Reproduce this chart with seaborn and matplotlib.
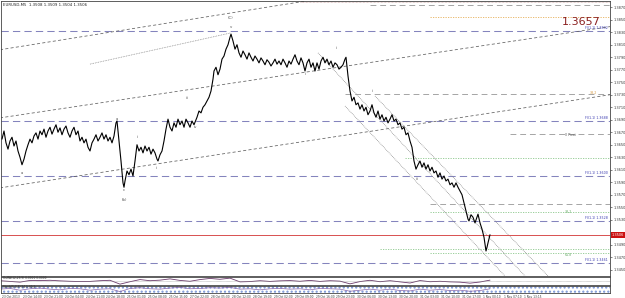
import numpy as np
import pandas as pd
import matplotlib
matplotlib.use("Agg")
import matplotlib.pyplot as plt
import seaborn as sns

# ---------------- data ----------------
bar = [2,4,6,8,10,12,14,16,18,20,22,24,26,28,30,32,34,36,38,40,42,44,46,48,50,52,54,56,58,60,
       62,64,66,68,70,72,74,76,78,80,82,84,86,88,90,92,94,96,98,100,102,104,106,108,110,112,114,116,117,
       119,121,123,124,125,127,129,131,133,135,137,139,141,143,145,147,149,151,153,155,157,158,160,162,164,
       166,168,170,172,174,176,178,180,182,184,186,188,190,192,194,195,197,199,201,203,205,207,209,211,213,
       214,216,218,220,222,224,226,228,230,231,233,235,237,239,241,243,245,247,249,251,253,255,257,259,261,
       263,265,267,269,271,273,275,277,279,281,283,285,287,289,291,293,295,297,299,301,303,305,307,309,311,
       313,315,317,319,321,323,325,327,329,331,333,335,337,339,341,343,345,346,348,350,352,354,356,358,360,
       362,364,366,368,370,372,374,376,378,380,382,384,386,388,390,392,394,396,398,400,402,404,406,408,410,
       412,414,416,418,420,422,424,426,428,430,432,434,436,438,440,442,444,446,448,450,452,454,456,458,460,
       462,464,466,468,469,471,473,475,477,478,480,482,484,486,487,488,490]
price = [1.3659,1.3672,1.3653,1.3643,1.3656,1.3662,1.3648,1.3656,1.3640,1.3630,1.3618,1.3627,1.3640,1.3650,
         1.3659,1.3653,1.3664,1.3669,1.3659,1.3672,1.3666,1.3675,1.3662,1.3672,1.3678,1.3667,1.3675,1.3682,
         1.3670,1.3677,1.3666,1.3675,1.3680,1.3669,1.3662,1.3672,1.3678,1.3666,1.3672,1.3656,1.3662,1.3653,
         1.3659,1.3646,1.3640,1.3653,1.3659,1.3666,1.3656,1.3662,1.3669,1.3659,1.3666,1.3656,1.3662,1.3653,
         1.3664,1.3685,1.3688,
         1.3656,1.3624,1.3589,1.3582,1.3592,1.3608,1.3602,1.3611,1.3600,1.3624,1.3650,1.3640,1.3646,1.3637,
         1.3648,1.3640,1.3646,1.3635,1.3643,1.3637,1.3627,1.3624,1.3634,1.3640,1.3656,
         1.3675,1.3691,1.3678,1.3672,1.3685,1.3678,1.3691,1.3682,1.3688,1.3678,1.3691,1.3685,1.3678,1.3688,
         1.3682,1.3686,1.3694,1.3704,1.3701,1.3710,1.3714,1.3720,1.3726,1.3736,1.3755,
         1.3768,1.3774,1.3762,1.3771,1.3787,1.3792,1.3803,1.3810,1.3822,1.3827,1.3816,1.3803,1.3810,1.3797,
         1.3790,1.3800,1.3794,1.3787,1.3797,1.3790,1.3784,1.3792,1.3787,1.3781,1.3789,
         1.3784,1.3778,1.3786,1.3782,1.3776,1.3781,1.3787,1.3779,1.3784,1.3778,1.3787,1.3781,1.3774,1.3784,
         1.3779,1.3787,1.3794,1.3784,1.3778,1.3789,1.3781,1.3768,1.3781,1.3787,1.3774,
         1.3781,1.3768,1.3781,1.3771,1.3784,1.3790,1.3781,1.3787,1.3778,1.3784,1.3774,1.3781,1.3778,1.3771,
         1.3774,1.3778,1.3787,1.3790,1.3760,1.3736,1.3720,1.3726,1.3714,1.3717,1.3707,
         1.3714,1.3704,1.3710,1.3698,1.3704,1.3714,1.3701,1.3694,1.3704,1.3691,1.3698,1.3688,1.3694,1.3685,
         1.3691,1.3698,1.3688,1.3691,1.3682,1.3685,1.3675,1.3678,1.3666,1.3669,1.3656,
         1.3646,1.3624,1.3611,1.3618,1.3624,1.3614,1.3621,1.3611,1.3618,1.3608,1.3614,1.3605,1.3608,1.3598,
         1.3605,1.3595,1.3600,1.3592,1.3595,1.3586,1.3589,1.3582,1.3589,1.3582,1.3576,
         1.3570,1.3557,1.3544,1.3531,1.3528,1.3538,1.3534,1.3525,1.3534,1.3539,1.3525,1.3515,1.3502,1.3480,
         1.3486,1.3493,1.3506]

# horizontal levels
fibo_levels = [1.3832, 1.3688, 1.3600, 1.3528, 1.3461]
fibo_labels = ["FI(1.1) 1.3832", "FI(1.1) 1.3688", "FI(1.1) 1.3600", "FI(1.1) 1.3528", "FI(1.1) 1.3461"]
gray_levels = [1.3874, 1.3731, 1.3667, 1.3555]
gray_start = [370, 345, 510, 430]
green_levels = [1.3629, 1.3542, 1.3483, 1.3477]
green_start = [405, 430, 380, 430]
orange_level = 1.3854
orange_start = 430
last_price = 1.3506

# trend lines (bar, price) anchors
trend_dashed = [((0, 1.3802), (306, 1.3880)),
                ((0, 1.3693), (610, 1.3839)),
                ((0, 1.3581), (610, 1.3730))]
trend_dotted = [((90, 1.3779), (231, 1.3829)),
                ((345, 1.3712), (505, 1.3440)),
                ((318, 1.3797), (525, 1.3440)),
                ((375, 1.3728), (548, 1.3440))]

wave_labels = [("(C)", 231, 1.3853), ("v", 231, 1.3839), ("a", 117, 1.3692), ("c", 124, 1.3577),
               ("(b)", 124, 1.3562), ("i", 137, 1.3662), ("ii", 157, 1.3613), ("iii", 187, 1.3725),
               ("iv", 195, 1.3678), ("i", 305, 1.3763), ("ii", 337, 1.3805), ("i", 372, 1.3736),
               ("iii", 417, 1.3595), ("a", 22, 1.3605)]

osc_bar = list(range(0, 500, 10))
osc_val = [0.2,-0.3,-0.8,0.4,0.3,0.5,0.1,-0.2,-0.4,-0.3,0.2,0.5,-2.2,-0.5,1.0,0.2,0.6,1.5,0.4,-0.2,
           1.0,1.8,1.2,2.0,-0.6,-0.4,0.2,-0.3,0.1,0.3,-0.2,0.4,-0.3,0.2,-0.1,-2.0,-0.4,0.5,-0.5,0.2,
           -0.6,-1.4,0.3,-0.5,-0.2,-0.6,-0.8,-1.5,-0.7,0.6]
osc2_val = [0.1,0.3,-0.2,0.2,0.4,0.1,-0.1,0.3,0.2,-0.2,0.1,0.2,-0.6,0.3,0.5,0.2,0.1,0.4,0.6,0.2,
            0.3,0.5,0.4,0.6,0.1,0.2,-0.1,0.2,0.3,0.1,0.2,-0.1,0.3,0.2,0.1,-0.5,-0.2,0.1,-0.2,0.1,
            -0.3,-0.4,0.1,-0.2,0.0,-0.3,-0.2,-0.5,-0.3,0.2]

time_labels = ["23 Oct 2013","23 Oct 14:00","23 Oct 21:00","24 Oct 04:00","24 Oct 11:00","24 Oct 18:00",
               "25 Oct 01:00","25 Oct 08:00","25 Oct 15:00","27 Oct 22:00","28 Oct 05:00","28 Oct 12:00",
               "28 Oct 19:00","29 Oct 02:00","29 Oct 09:00","29 Oct 16:00","29 Oct 23:00","30 Oct 06:00",
               "30 Oct 13:00","30 Oct 20:00","31 Oct 03:00","31 Oct 10:00","31 Oct 17:00","1 Nov 00:10",
               "1 Nov 07:10","1 Nov 13:15"]

header = "EURUSD,M5  1.3508 1.3509 1.3504 1.3506"

# ---------------- figure ----------------
sns.set_style("white")
plt.rcParams['font.family'] = ['DejaVu Sans']
W, H = 625, 298
fig = plt.figure(figsize=(W/100, H/100), dpi=100)
fig.patch.set_facecolor("white")

def px_axes(x0, y0, x1, y1):
    return fig.add_axes([x0/W, 1 - y1/H, (x1-x0)/W, (y1-y0)/H])

ax = px_axes(1, 1, 610, 276)
ax1 = px_axes(1, 277, 610, 285)
ax2 = px_axes(1, 286, 610, 293)

XMIN, XMAX = 1, 610
YTOP, YBOT = 1.3880, 1.3440

df = pd.DataFrame({"bar": bar, "price": price})

# levels
for lv, lab in zip(fibo_levels, fibo_labels):
    ax.axhline(lv, color="#8484bd", lw=0.75, dashes=(7, 4), zorder=1)
    ax.text(608, lv + 0.00012, lab, fontsize=2.3, color="#3a3ab0", ha="right", va="bottom")
for lv, st in zip(gray_levels, gray_start):
    ax.plot([st, XMAX], [lv, lv], color="#a5a5a5", lw=0.7, dashes=(6, 4), zorder=1)
for lv, st in zip(green_levels, green_start):
    ax.plot([st, XMAX], [lv, lv], color="#8cc88c", lw=0.6, ls=(0, (1.5, 1.5)), zorder=1)
ax.plot([orange_start, XMAX], [orange_level, orange_level], color="#e6b05a", lw=0.6, ls=(0, (1.5, 1.5)))
ax.plot([300, XMAX], [1.3878, 1.3878], color="#c9a0a0", lw=0.5, ls=(0, (1, 1)))
ax.axhline(last_price, color="#d85050", lw=0.7, zorder=2)

ax.text(565, 1.3663, "0 Pivot", fontsize=2.3, color="#555555", va="bottom")
ax.text(565, 1.3542, "38.2", fontsize=2.3, color="#66aa66", va="center")
ax.text(565, 1.3477, "61.8", fontsize=2.3, color="#66aa66", va="top")
ax.text(590, 1.3733, "38.2", fontsize=2.3, color="#d89a40", va="center")

for (a, b) in trend_dashed:
    ax.plot([a[0], b[0]], [a[1], b[1]], color="#606060", lw=0.55, dashes=(4, 3), zorder=1)
for (a, b) in trend_dotted:
    ax.plot([a[0], b[0]], [a[1], b[1]], color="#808080", lw=0.55, ls=(0, (1, 1.2)), zorder=1)

sns.lineplot(data=df, x="bar", y="price", ax=ax, color="black", lw=0.8, estimator=None, sort=False, zorder=3)

for t, xb, yp in wave_labels:
    ax.text(xb, yp, t, fontsize=2.8, color="#555555", ha="center", va="center")

ax.text(562, 1.3846, "1.3657", fontsize=8, color="#8b2020", ha="left", va="center")
ax.text(3, 1.3873, header, fontsize=2.8, color="#222222", ha="left", va="center")

ax.set_xlim(XMIN, XMAX)
ax.set_ylim(YBOT, YTOP)
ax.set_xlabel("")
ax.set_ylabel("")
ax.set_xticks([])
yt = [v for v in np.arange(1.3870, 1.3439, -0.0020) if abs(v - last_price) > 0.0008]
ax.yaxis.tick_right()
ax.set_yticks(yt)
ax.set_yticklabels([f"{v:.4f}" for v in yt], fontsize=2.5, color="#333333")
ax.tick_params(axis="y", length=1.5, width=0.4, pad=1)
ax.text(1.003, (last_price - YBOT)/(YTOP - YBOT), f"{last_price:.4f}", transform=ax.transAxes,
        fontsize=2.5, color="white", va="center", ha="left",
        bbox=dict(boxstyle="square,pad=0.25", fc="#cc1111", ec="none"))

# indicator 1
sns.lineplot(x=osc_bar, y=osc_val, ax=ax1, color="#6a3a6a", lw=0.6)
ax1.axhline(0, color="#888888", lw=0.4, ls=(0, (1, 1)))
ax1.set_xlim(XMIN, XMAX); ax1.set_ylim(-2.8, 2.8)
ax1.set_xticks([]); ax1.set_yticks([])
ax1.text(3, 2.0, "OsMA(12,26,9) 0.0000 0.0000", fontsize=2.1, color="#333333", va="center")

# indicator 2
ax2.fill_between([XMIN, XMAX], [-1, -1], [1, 1], facecolor="white", edgecolor="#7b96d6",
                 hatch="....", lw=0)
sns.lineplot(x=osc_bar, y=osc2_val, ax=ax2, color="#8866aa", lw=0.5)
ax2.set_xlim(XMIN, XMAX); ax2.set_ylim(-1, 1)
ax2.set_yticks([])
pos = [2 + 20.9 * i for i in range(len(time_labels))]
ax2.set_xticks(pos)
ax2.set_xticklabels(time_labels, fontsize=2.1, ha="left", color="#333333")
ax2.tick_params(axis="x", length=1.0, width=0.4, pad=0.8)
ax2.text(3, 0.6, "Stoch(5,3,3) 24.1 30.2", fontsize=2.1, color="#333333", va="center")

for a in (ax, ax1, ax2):
    for s in a.spines.values():
        s.set_linewidth(0.6)
        s.set_color("#444444")

fig.savefig("out.png", dpi=100, facecolor="white")
